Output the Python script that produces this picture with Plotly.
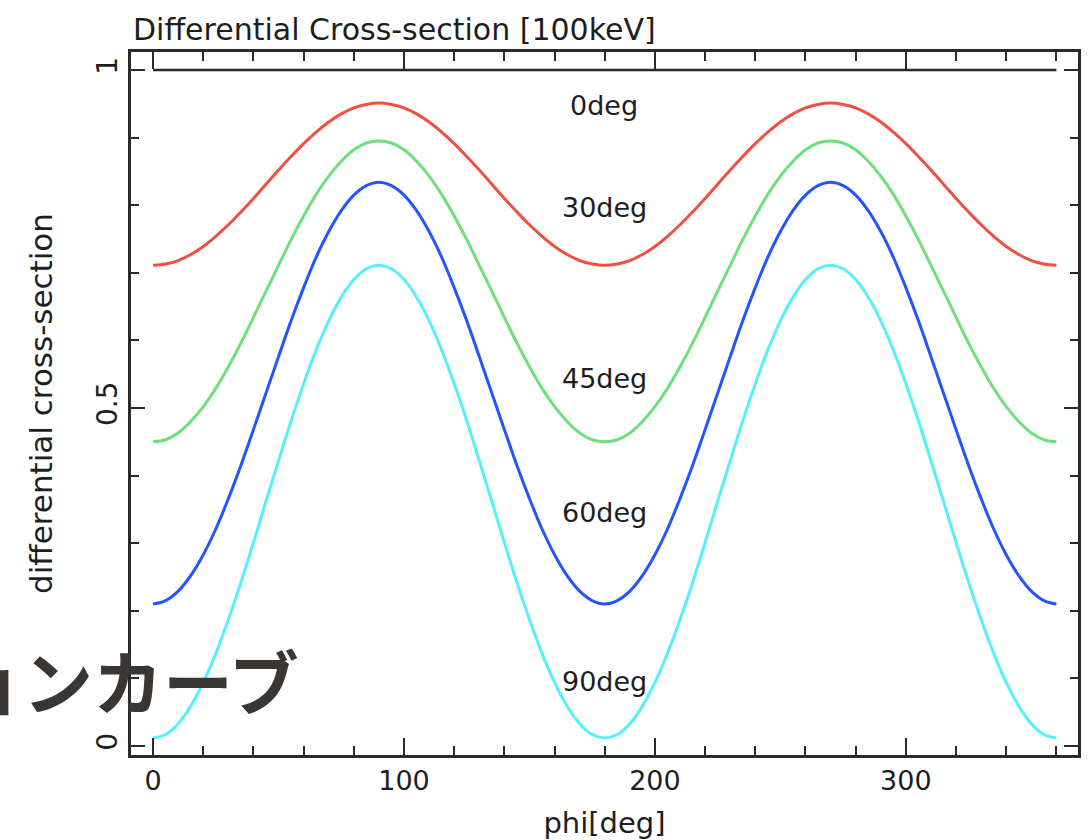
import plotly.graph_objects as go

# azimuthal angle phi [deg], 5-degree steps
phi = list(range(0, 361, 5))

# differential cross-section
red_0deg = [0.711, 0.713, 0.718, 0.727, 0.739, 0.754, 0.771, 0.790, 0.810, 0.831, 0.852, 0.872, 0.891, 0.908, 0.923, 0.935, 0.944, 0.949, 0.951,
            0.949, 0.944, 0.935, 0.923, 0.908, 0.891, 0.872, 0.852, 0.831, 0.810, 0.790, 0.771, 0.754, 0.739, 0.727, 0.718, 0.713, 0.711,
            0.713, 0.718, 0.727, 0.739, 0.754, 0.771, 0.790, 0.810, 0.831, 0.852, 0.872, 0.891, 0.908, 0.923, 0.935, 0.944, 0.949, 0.951,
            0.949, 0.944, 0.935, 0.923, 0.908, 0.891, 0.872, 0.852, 0.831, 0.810, 0.790, 0.771, 0.754, 0.739, 0.727, 0.718, 0.713, 0.711]
green_30deg = [0.450, 0.453, 0.463, 0.480, 0.502, 0.529, 0.561, 0.596, 0.634, 0.673, 0.711, 0.749, 0.784, 0.816, 0.843, 0.865, 0.882, 0.892, 0.895,
               0.892, 0.882, 0.865, 0.843, 0.816, 0.784, 0.749, 0.711, 0.673, 0.634, 0.596, 0.561, 0.529, 0.502, 0.480, 0.463, 0.453, 0.450,
               0.453, 0.463, 0.480, 0.502, 0.529, 0.561, 0.596, 0.634, 0.673, 0.711, 0.749, 0.784, 0.816, 0.843, 0.865, 0.882, 0.892, 0.895,
               0.892, 0.882, 0.865, 0.843, 0.816, 0.784, 0.749, 0.711, 0.673, 0.634, 0.596, 0.561, 0.529, 0.502, 0.480, 0.463, 0.453, 0.450]
blue_45deg = [0.210, 0.215, 0.229, 0.252, 0.283, 0.321, 0.366, 0.415, 0.468, 0.522, 0.576, 0.629, 0.678, 0.723, 0.761, 0.792, 0.815, 0.829, 0.834,
              0.829, 0.815, 0.792, 0.761, 0.723, 0.678, 0.629, 0.576, 0.522, 0.468, 0.415, 0.366, 0.321, 0.283, 0.252, 0.229, 0.215, 0.210,
              0.215, 0.229, 0.252, 0.283, 0.321, 0.366, 0.415, 0.468, 0.522, 0.576, 0.629, 0.678, 0.723, 0.761, 0.792, 0.815, 0.829, 0.834,
              0.829, 0.815, 0.792, 0.761, 0.723, 0.678, 0.629, 0.576, 0.522, 0.468, 0.415, 0.366, 0.321, 0.283, 0.252, 0.229, 0.215, 0.210]
cyan_60deg = [0.012, 0.017, 0.033, 0.059, 0.094, 0.137, 0.187, 0.242, 0.301, 0.362, 0.422, 0.481, 0.536, 0.586, 0.629, 0.664, 0.690, 0.706, 0.711,
              0.706, 0.690, 0.664, 0.629, 0.586, 0.536, 0.481, 0.422, 0.362, 0.301, 0.242, 0.187, 0.137, 0.094, 0.059, 0.033, 0.017, 0.012,
              0.017, 0.033, 0.059, 0.094, 0.137, 0.187, 0.242, 0.301, 0.362, 0.422, 0.481, 0.536, 0.586, 0.629, 0.664, 0.690, 0.706, 0.711,
              0.706, 0.690, 0.664, 0.629, 0.586, 0.536, 0.481, 0.422, 0.362, 0.301, 0.242, 0.187, 0.137, 0.094, 0.059, 0.033, 0.017, 0.012]

ref_x = [0, 360]
ref_y = [1, 1]

curve_labels = ["0deg", "30deg", "45deg", "60deg", "90deg"]
curve_label_x = [179.5, 179.8, 179.8, 179.8, 179.8]
curve_label_y = [0.948, 0.796, 0.544, 0.346, 0.095]

series = [
    (red_0deg, "#f0503f"),
    (green_30deg, "#6ee07a"),
    (blue_45deg, "#2255ff"),
    (cyan_60deg, "#55f0ff"),
]

FONT = "DejaVu Sans"
TXT = "#1e1e1e"
AX = "#2a2a2a"

fig = go.Figure()
fig.add_trace(go.Scatter(x=ref_x, y=ref_y, mode="lines",
                         line=dict(color=AX, width=2.5), showlegend=False, hoverinfo="skip"))
for ys, col in series:
    fig.add_trace(go.Scatter(x=phi, y=ys, mode="lines", line=dict(color=col, width=3, shape="spline"),
                             showlegend=False))

for t, xv, yv in zip(curve_labels, curve_label_x, curve_label_y):
    fig.add_annotation(x=xv, y=yv, text=t, showarrow=False, xref="x", yref="y",
                       font=dict(family=FONT, size=27, color=TXT), xanchor="center", yanchor="middle")

fig.add_annotation(x=0.0, y=1.0, xref="paper", yref="paper", text="Differential Cross-section [100keV]",
                   showarrow=False, xanchor="left", yanchor="bottom", yshift=3,
                   font=dict(family=FONT, size=30, color=TXT))

# slide-title fragment overlapping the chart (bottom-left), partly cut at the page edge
fig.add_annotation(x=0.1795, y=0.108, xref="paper", yref="paper", text="<b>ョンカーブ</b>", showarrow=False,
                   xanchor="right", yanchor="middle",
                   font=dict(family="Noto Sans CJK JP", size=70, color="#3a3634"))

fig.update_layout(
    width=1088, height=840,
    margin=dict(l=131, r=10, t=52, b=85),
    paper_bgcolor="white", plot_bgcolor="white",
    font=dict(family=FONT, color=TXT),
    xaxis=dict(range=[-8.8, 368.6], showgrid=False, zeroline=False, automargin=False,
               showline=True, linecolor=AX, linewidth=2.5, mirror="ticks",
               ticks="inside", ticklen=17, tickwidth=2, tickcolor=AX,
               tickvals=[0, 100, 200, 300], ticktext=["0", "100", "200", "300"],
               tickfont=dict(family=FONT, size=27, color=TXT),
               minor=dict(dtick=20, tick0=0, ticks="inside", ticklen=9, tickwidth=2, tickcolor=AX),
               title=dict(text="phi[deg]", font=dict(family=FONT, size=29, color=TXT), standoff=20)),
    yaxis=dict(range=[-0.0133, 1.0266], showgrid=False, zeroline=False, automargin=False,
               showline=True, linecolor=AX, linewidth=2.5, mirror="ticks",
               ticks="inside", ticklen=14, tickwidth=2, tickcolor=AX,
               tickvals=[0, 0.5, 1], ticktext=["0", "0.5", "1"], tickangle=-90,
               tickfont=dict(family=FONT, size=28, color=TXT),
               minor=dict(dtick=0.1, tick0=0, ticks="inside", ticklen=8, tickwidth=2, tickcolor=AX),
               title=dict(text="differential cross-section", font=dict(family=FONT, size=31, color=TXT),
                          standoff=30)),
)

fig.write_html("out.html")
